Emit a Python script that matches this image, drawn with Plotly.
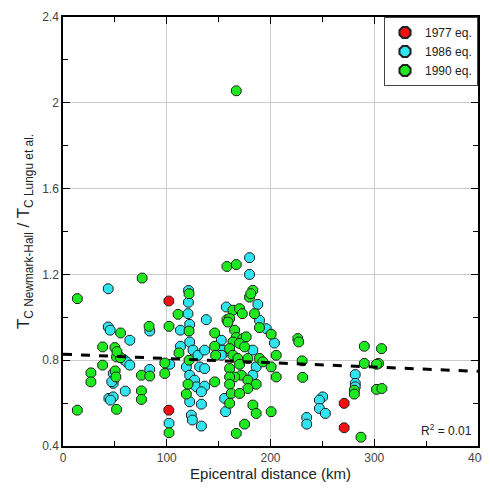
import plotly.graph_objects as go

# ---- data ----
x_1977 = [102, 102, 271, 271]
y_1977 = [1.076, 0.567, 0.599, 0.485]

x_1986 = [43.6, 43.6, 45.5, 64.4, 83.6, 58.7, 61.2, 64.4, 48.4, 48.4, 47.0, 83.6, 60.0, 44.2, 48.4, 45.8,
          120.9, 121.0, 120.5, 122.1, 138.1, 113.2, 157.4, 113.2, 122.1, 125.3, 130.1, 136.5, 152.6, 155.8,
          102.9, 118.9, 131.7, 136.5, 122.1, 126.9, 128.5, 136.5, 133.4, 122.1, 133.4, 156.7, 123.7, 124.7,
          133.4, 102.2,
          179.8, 179.8, 187.8, 189.4, 195.9, 203.8, 154.1, 152.6, 183.0, 186.2, 183.0, 155.8,
          250.3, 247.1, 247.1, 252.9, 234.9, 234.9, 281.7, 281.7, 281.7]
y_1986 = [1.133, 0.955, 0.940, 0.893, 0.936, 0.803, 0.792, 0.777, 0.738, 0.692, 0.700, 0.757, 0.656, 0.622, 0.629, 0.614,
          1.070, 1.125, 1.017, 0.967, 0.989, 0.940, 1.048, 0.865, 0.885, 0.847, 0.823, 0.847, 0.893, 0.839,
          0.781, 0.769, 0.769, 0.761, 0.730, 0.707, 0.676, 0.679, 0.653, 0.606, 0.595, 0.560, 0.544, 0.521,
          0.493, 0.506,
          1.278, 1.200, 1.060, 0.986, 0.947, 0.880, 0.847, 0.823, 0.847, 0.769, 0.730, 0.622,
          0.629, 0.614, 0.575, 0.552, 0.533, 0.502, 0.733, 0.692, 0.676]

x_1990 = [13.8, 76.3, 55.5, 83.0, 38.2, 50.0, 51.6, 55.5, 38.2, 26.9, 26.9, 50.3, 51.0, 75.6, 83.6, 75.6, 75.6, 51.6, 13.8, 52.0,
          102.2, 121.5, 110.9, 121.5, 146.2, 158.0, 111.8, 146.2, 147.1, 121.5, 98.1, 98.1, 120.5, 146.2, 118.9, 102.2,
          158.0, 167.0, 167.0, 183.0, 179.8, 181.0, 163.8, 170.2, 172.8, 184.6, 160.6, 159.0, 189.4, 165.4, 200.6,
          167.0, 173.4, 176.6, 163.8, 170.2, 175.0, 160.6, 205.5, 163.8, 168.6, 178.2, 189.4, 192.6, 170.2, 200.6,
          160.6, 171.8, 165.4, 160.6, 205.5, 178.2, 186.2, 160.6, 178.2, 162.2, 170.2, 160.6, 183.0, 186.2, 200.6,
          175.0, 167.0,
          226.3, 227.2, 230.5, 231.0, 280.8, 280.8, 287.2, 290.4, 290.4, 307.0, 304.1, 302.2, 302.2, 307.4]
y_1990 = [1.087, 1.183, 0.927, 0.958, 0.862, 0.859, 0.815, 0.812, 0.777, 0.741, 0.699, 0.750, 0.722, 0.730, 0.726, 0.657, 0.617, 0.571, 0.567, 0.840,
          0.958, 1.110, 1.014, 0.936, 0.927, 0.989, 0.834, 0.865, 0.823, 0.800, 0.787, 0.738, 0.688, 0.699, 0.642, 0.462,
          1.237, 1.246, 2.056, 1.126, 1.094, 1.110, 1.033, 1.040, 1.017, 1.017, 0.994, 0.978, 0.952, 0.940, 0.921,
          0.906, 0.901, 0.909, 0.885, 0.878, 0.862, 0.854, 0.823, 0.823, 0.808, 0.808, 0.808, 0.792, 0.781, 0.769,
          0.761, 0.730, 0.722, 0.722, 0.722, 0.707, 0.688, 0.688, 0.668, 0.645, 0.645, 0.599, 0.591, 0.552, 0.560,
          0.502, 0.459,
          0.901, 0.885, 0.797, 0.720, 0.660, 0.642, 0.441, 0.865, 0.785, 0.854, 0.785, 0.781, 0.664, 0.668]

trend_x = [0, 400]
trend_intercept = 0.828
trend_slope = -0.0002
r2_text = "R<sup>2</sup> = 0.01"

FONT = "Liberation Sans, Arial, sans-serif"
outline = dict(color="#222222", width=1)

fig = go.Figure()
for name, xs, ys, col in [("1977 eq.", x_1977, y_1977, "#f01010"),
                          ("1986 eq.", x_1986, y_1986, "#30e4f0"),
                          ("1990 eq.", x_1990, y_1990, "#1ee81e")]:
    fig.add_trace(go.Scatter(x=xs, y=ys, mode="markers", name=name,
                             marker=dict(symbol="octagon", size=10.5, color=col, line=outline)))

fig.add_trace(go.Scatter(x=trend_x, y=[trend_intercept + trend_slope * v for v in trend_x],
                         mode="lines", showlegend=False,
                         line=dict(color="black", width=3, dash="dash")))

axis_common = dict(showline=True, linecolor="black", linewidth=1.5, mirror="ticks",
                   ticks="inside", ticklen=7, tickcolor="black", automargin=False,
                   showgrid=True, gridcolor="#cccccc", gridwidth=1, zeroline=False,
                   tickfont=dict(family=FONT, size=12, color="#444444"))

fig.update_xaxes(range=[0, 400], dtick=100, tick0=0,
                 minor=dict(ticks="inside", ticklen=5, dtick=50, showgrid=False, tickcolor="black"),
                 title=dict(text="Epicentral distance (km)", font=dict(family=FONT, size=15, color="#222222"),
                            standoff=0),
                 **axis_common)
fig.update_yaxes(range=[0.4, 2.4], dtick=0.4, tick0=0.4,
                 minor=dict(ticks="inside", ticklen=5, dtick=0.2, showgrid=False, tickcolor="black"),
                 title=dict(text="T<sub>C Newmark-Hall</sub> / T<sub>C Lungu et al.</sub>",
                            font=dict(family=FONT, size=17, color="#222222"), standoff=8),
                 **axis_common)

fig.add_annotation(x=1, y=0, xref="paper", yref="paper", xanchor="right", yanchor="bottom",
                   xshift=-4, yshift=6, text=r2_text, showarrow=False,
                   font=dict(family=FONT, size=12, color="#222222"))

fig.update_layout(width=482, height=482, plot_bgcolor="white", paper_bgcolor="white",
                  margin=dict(l=55, r=12, t=9, b=44),
                  legend=dict(x=1, y=1, xanchor="right", yanchor="top",
                              bordercolor="#444444", borderwidth=1, bgcolor="white",
                              font=dict(family=FONT, size=12, color="#222222"),
                              itemsizing="constant", tracegroupgap=0),
                  font=dict(family=FONT))

fig.write_html("out.html")
